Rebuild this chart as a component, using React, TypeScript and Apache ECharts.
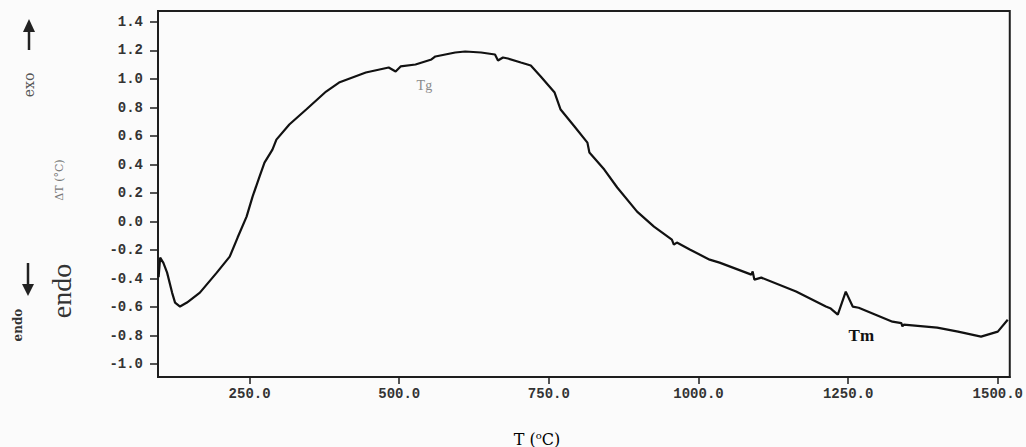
import React, { useEffect, useRef } from "react";
import * as echarts from "echarts";

// Temperature (°C) and ΔT (°C)
const tempC = [
  98, 100.6, 106, 112.2, 120.5, 125.5, 133.8, 145.4, 167, 195.2, 216.8, 230, 245, 255,
  266.6, 274.9, 288.2, 294.8, 316.4, 344.6, 377.8, 399.4, 444.2, 482.4, 494, 502.3,
  527.2, 553.8, 560.4, 593.6, 610.2, 636.8, 660, 665, 673.3, 681.6, 703.2, 719.8,
  736.4, 759.6, 769.6, 792.8, 814.4, 817.7, 842.6, 864.2, 897.4, 925.6, 955.5, 958.8,
  963.8, 985.4, 1018.6, 1035.2, 1088.3, 1090.5, 1093.3, 1104.9, 1163, 1212.8, 1221,
  1232.7, 1246, 1257.6, 1267.6, 1295.8, 1324, 1338.9, 1340.6, 1343, 1398.7, 1433.6,
  1472, 1500, 1516.6,
];
const deltaT = [
  -0.39, -0.253, -0.29, -0.358, -0.498, -0.568, -0.596, -0.568, -0.498, -0.358, -0.246,
  -0.112, 0.035, 0.175, 0.316, 0.414, 0.505, 0.575, 0.681, 0.786, 0.912, 0.975, 1.046,
  1.081, 1.053, 1.088, 1.102, 1.137, 1.158, 1.186, 1.193, 1.186, 1.172, 1.13, 1.151,
  1.144, 1.116, 1.095, 1.018, 0.905, 0.786, 0.667, 0.554, 0.484, 0.365, 0.239, 0.07,
  -0.035, -0.126, -0.161, -0.147, -0.196, -0.267, -0.288, -0.372, -0.35, -0.407,
  -0.393, -0.491, -0.596, -0.61, -0.653, -0.491, -0.596, -0.604, -0.653, -0.702,
  -0.712, -0.735, -0.723, -0.744, -0.772, -0.807, -0.772, -0.688,
];

const xTicks = [250, 500, 750, 1000, 1250, 1500];
const yTicks = [-1.0, -0.8, -0.6, -0.4, -0.2, 0.0, 0.2, 0.4, 0.6, 0.8, 1.0, 1.2, 1.4];

const yLabel = "ΔT (°C)";
const annotations = [
  { text: "Tg", t: 542, v: 0.954, color: "#8a8a8a", size: 14, weight: "normal" },
  { text: "Tm", t: 1272, v: -0.8, color: "#111", size: 17, weight: "bold" },
];

export default function App() {
  const ref = useRef<HTMLDivElement>(null);
  useEffect(() => {
    if (!ref.current) return;
    const chart = echarts.init(ref.current, undefined, { renderer: "svg" });
    const mono = "Liberation Mono";
    const serif = "DejaVu Serif";
    const ink = "#1e1e1e";
    chart.setOption({
      animation: false,
      backgroundColor: "#fbfbfb",
      grid: {
        left: 158,
        right: 11,
        top: 11,
        bottom: 70,
        show: true,
        borderColor: ink,
        borderWidth: 2,
        backgroundColor: "transparent",
      },
      xAxis: {
        type: "value",
        min: 97,
        max: 1520,
        axisLine: { show: true, onZero: false, lineStyle: { color: ink, width: 2 } },
        axisTick: { show: true, length: 7, customValues: xTicks, lineStyle: { color: ink, width: 1.5 } },
        axisLabel: {
          customValues: xTicks,
          formatter: (v: number) => v.toFixed(1),
          fontFamily: mono,
          fontWeight: "bold",
          fontSize: 14,
          color: "#333",
          margin: 10,
        },
        splitLine: { show: false },
      },
      yAxis: {
        type: "value",
        min: -1.09,
        max: 1.477,
        axisLine: { show: true, onZero: false, lineStyle: { color: ink, width: 2 } },
        axisTick: { show: true, length: 8, customValues: yTicks, lineStyle: { color: ink, width: 1.5 } },
        axisLabel: {
          customValues: yTicks,
          formatter: (v: number) => (Math.abs(v) < 1e-9 ? "0.0" : v.toFixed(1)),
          fontFamily: mono,
          fontWeight: "bold",
          fontSize: 14,
          color: "#333",
          margin: 15,
        },
        splitLine: { show: false },
      },
      series: [
        {
          type: "line",
          data: tempC.map((t, i) => [t, deltaT[i]]),
          showSymbol: false,
          symbol: "none",
          lineStyle: { color: "#111", width: 2.2 },
          markPoint: {
            symbol: "circle",
            symbolSize: 0,
            data: annotations.map((a) => ({
              coord: [a.t, a.v],
              label: {
                show: true,
                formatter: a.text,
                color: a.color,
                fontSize: a.size,
                fontWeight: a.weight,
                fontFamily: "Liberation Serif",
                position: "inside",
              },
            })),
          },
        },
      ],
      graphic: [
        // up arrow
        { type: "line", shape: { x1: 29, y1: 50, x2: 29, y2: 28 }, style: { stroke: "#222", lineWidth: 2.5 } },
        { type: "polygon", shape: { points: [[23, 32], [29, 19], [35, 32]] }, style: { fill: "#222" } },
        {
          type: "text",
          x: 29,
          y: 85,
          rotation: Math.PI / 2,
          style: { text: "exo", fontSize: 14, fontFamily: serif, fill: "#555", align: "center", verticalAlign: "middle" },
        },
        {
          type: "text",
          x: 59,
          y: 180,
          rotation: Math.PI / 2,
          style: { text: yLabel, fontSize: 11, fontFamily: serif, fill: "#777", align: "center", verticalAlign: "middle" },
        },
        // down arrow
        { type: "line", shape: { x1: 28, y1: 263, x2: 28, y2: 287 }, style: { stroke: "#222", lineWidth: 2.5 } },
        { type: "polygon", shape: { points: [[22, 284], [28, 296], [34, 284]] }, style: { fill: "#222" } },
        {
          type: "text",
          x: 61,
          y: 291,
          rotation: Math.PI / 2,
          style: { text: "endo", fontSize: 28, fontFamily: "Liberation Serif", fill: "#333", align: "center", verticalAlign: "middle" },
        },
        {
          type: "text",
          x: 18,
          y: 325,
          rotation: Math.PI / 2,
          style: { text: "endo", fontSize: 12, fontWeight: "bold", fontFamily: serif, fill: "#333", align: "center", verticalAlign: "middle" },
        },
        {
          type: "text",
          x: 537,
          y: 439,
          style: {
            text: "{a|T (}{s|o}{a|C)}",
            align: "center",
            verticalAlign: "middle",
            rich: {
              a: { fontSize: 16, fontFamily: serif, color: "#222" },
              s: { fontSize: 10, fontFamily: serif, color: "#222", verticalAlign: "top", padding: [0, 0, 8, 0] },
            },
          },
        },
      ],
    });
    return () => chart.dispose();
  }, []);
  return (
    <div
      ref={ref}
      style={{ position: "absolute", left: 0, top: 0, width: 1026, height: 447 }}
    />
  );
}
